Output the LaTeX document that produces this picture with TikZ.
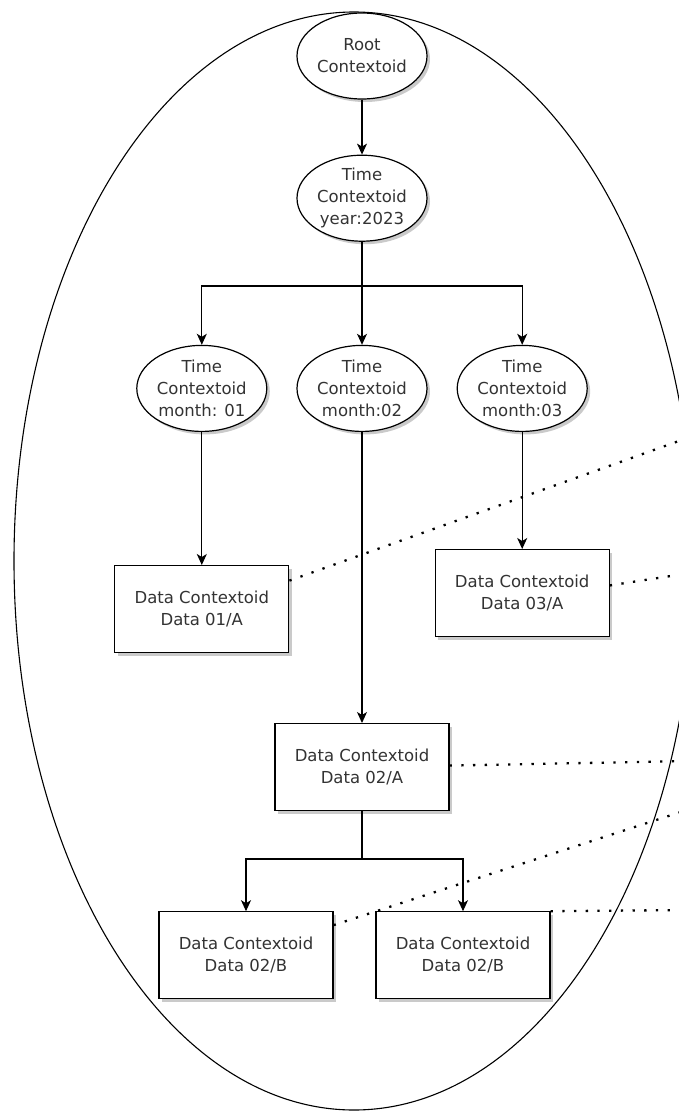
\documentclass[tikz,border=0pt]{standalone}
\usepackage{fontspec}
\setmainfont{DejaVu Sans}
\usetikzlibrary{positioning,arrows.meta,shapes.geometric,shadows}

\begin{document}
\begin{tikzpicture}[
  x=1pt, y=-1pt,
  font={\fontsize{16.5pt}{22pt}\selectfont}, text=black!80,
  softshadow/.style={drop shadow={shadow xshift=3pt, shadow yshift=-3pt, fill=black!35, opacity=0.6}},
  ctx/.style={draw, ellipse, fill=white, line width=1.2pt, minimum width=130pt, minimum height=86pt,
    inner sep=0pt, align=center, softshadow},
  data/.style={draw, rectangle, fill=white, line width=1.2pt, minimum width=174pt, minimum height=87pt,
    align=center, softshadow},
  arr/.style={-{Stealth[length=11pt, width=10pt, inset=3pt]}, line width=1.2pt},
  link/.style={line width=2.3pt, dash pattern=on 2.3pt off 9.4pt}
]
\useasboundingbox (0,0) rectangle (679,1111);
\clip (0,0) rectangle (679,1111);

% outer scope
\node[draw, ellipse, line width=1.1pt, minimum width=680pt, minimum height=1098pt] (realm) at (354,561) {};

% time hierarchy
\node[ctx] (root) at (362,56) {Root\\Contextoid};
\node[ctx, below=55pt of root] (year) {Time\\Contextoid\\year:2023};
\node[ctx, below=103pt of year] (m02) {Time\\Contextoid\\month:02};
\node[ctx, left=29pt of m02] (m01) {Time\\Contextoid\\month: 01};
\node[ctx, right=29pt of m02] (m03) {Time\\Contextoid\\month:03};

% data contextoids
\node[data, below=133pt of m01] (d01a) {Data Contextoid\\Data 01/A};
\node[data, below=117pt of m03] (d03a) {Data Contextoid\\Data 03/A};
\node[data, below=291pt of m02] (d02a) {Data Contextoid\\Data 02/A};
\node[data, below=100pt of d02a, xshift=-116pt] (d02b1) {Data Contextoid\\Data 02/B};
\node[data, below=100pt of d02a, xshift=101pt] (d02b2) {Data Contextoid\\Data 02/B};

\coordinate (bus1) at (362,286);
\coordinate (bus2) at (362,859);

\draw[arr] (root) -- (year);
\draw[line width=1.2pt] (year) -- (bus1);
\foreach \m in {m01,m02,m03}
  \draw[arr] (bus1) -| (\m);
\draw[arr] (m01) -- (d01a);
\draw[arr] (m02) -- (d02a);
\draw[arr] (m03) -- (d03a);
\draw[line width=1.2pt] (d02a) -- (bus2);
\foreach \b in {d02b1,d02b2}
  \draw[arr] (bus2) -| (\b);

% links leaving the scope
\coordinate (e1) at (690,437);
\coordinate (e2) at (690,573);
\coordinate (e3) at (690,761);
\coordinate (e4) at (690,809);
\coordinate (e5) at (690,910);
\draw[link] (d01a.18) -- (e1);
\draw[link] (d03a.5) -- (e2);
\draw[link] (d02a.1) -- (e3);
\draw[link] (d02b1.19) -- (e4);
\draw[link] (d02b2.north east) -- (e5);
\end{tikzpicture}
\end{document}
